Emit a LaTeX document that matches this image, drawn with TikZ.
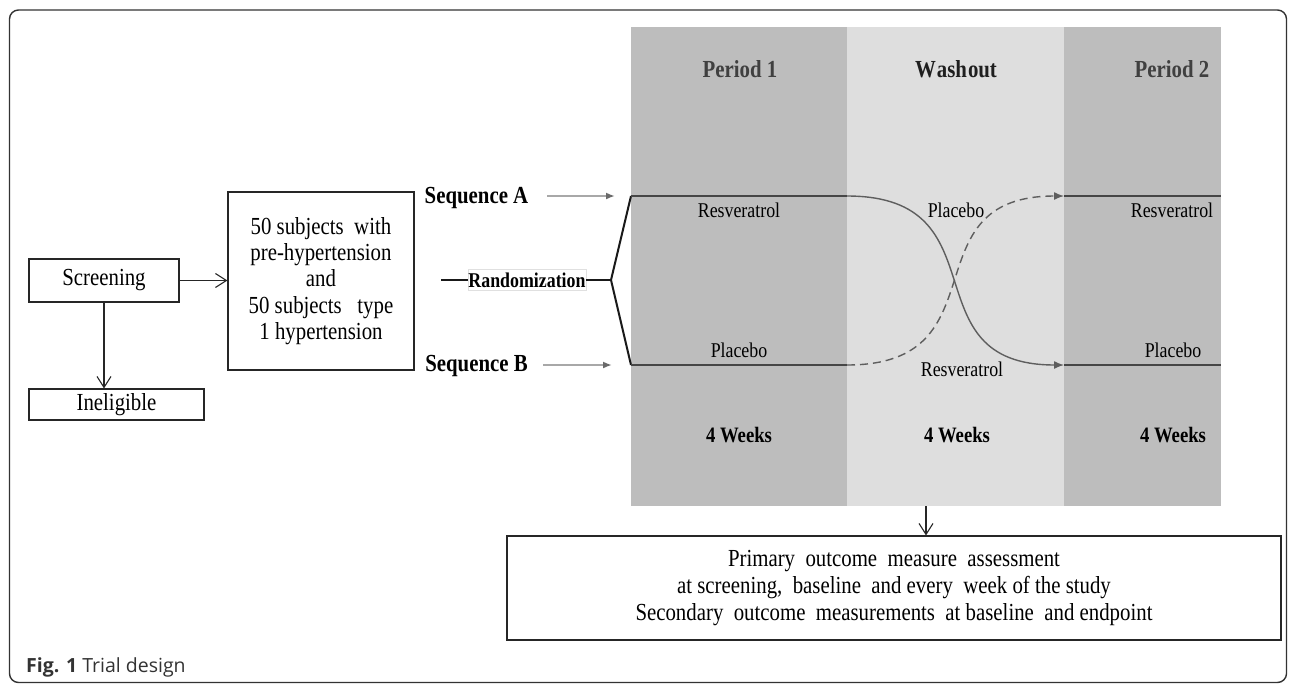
\documentclass[tikz,border=0pt]{standalone}
\usepackage{fontspec}
\setmainfont{Liberation Serif}[FakeStretch=0.85]
\newfontfamily\capfont{Open Sans}
\usetikzlibrary{arrows.meta}
\definecolor{bandD}{HTML}{BDBDBD}
\definecolor{bandL}{HTML}{DEDEDE}
\definecolor{lineD}{HTML}{464646}
\definecolor{curveC}{HTML}{5E5E5E}
\definecolor{seqC}{HTML}{A8A8A8}
\definecolor{tipC}{HTML}{6A6A6A}
\definecolor{capC}{HTML}{333333}
\tikzset{
  boxnode/.style={draw=black!85, line width=1.1pt, inner sep=0pt, align=center},
  bigfont/.style={font=\fontsize{24.5}{26.3}\selectfont},
  midfont/.style={font=\fontsize{24.5}{27}\selectfont},
  lblfont/.style={font=\fontsize{21}{24}\selectfont, inner sep=0pt, anchor=base},
  boldlbl/.style={font=\bfseries\fontsize{22}{24}\selectfont, inner sep=0pt, anchor=base},
  headlbl/.style={font=\bfseries\fontsize{24.5}{26}\selectfont, inner sep=0pt, anchor=base},
  openarrow/.style={draw=black!85, line width=1.1pt, -{Straight Barb[length=11pt,width=14pt,line width=1.1pt]}},
  seqarrow/.style={draw=seqC, line width=2pt, -{Latex[length=9pt,width=7pt,color=tipC]}},
  forkline/.style={draw=black!90, line width=2pt, line join=miter},
  mainline/.style={draw=lineD, line width=2.3pt},
  curveline/.style={draw=curveC, line width=1.4pt, -{Latex[length=10pt,width=8pt]}},
  dashcurve/.style={curveline, dash pattern=on 8pt off 5pt},
  framebox/.style={draw=capC, line width=1.4pt, rounded corners=9pt},
}
\begin{document}
\begin{tikzpicture}[x=1pt,y=-1pt]
\useasboundingbox (0,0) rectangle (1290,683);
\fill[white] (0,0) rectangle (1290,683);
% outer frame
\draw[framebox] (9.5,10) rectangle (1286.5,682.5);
% period bands
\fill[bandD] (631,27) rectangle (847,506);
\fill[bandL] (847,27) rectangle (1064,506);
\fill[bandD] (1064,27) rectangle (1221,506);
% band headers
\node[headlbl, text=black!75] (p1) at (740,77) {Period 1};
\node[headlbl, text=black!88] (wo) at (956,77) {W\kern1pt ash\kern1pt out};
\node[headlbl, text=black!75] (p2) at (1172,77) {Period 2};
% weeks
\node[boldlbl] (w1) at (739,442) {4 Weeks};
\node[boldlbl] (w2) at (957,442) {4 Weeks};
\node[boldlbl] (w3) at (1173,442) {4 Weeks};
% left boxes
\node[boxnode, bigfont, minimum width=150pt, minimum height=43pt] (scr) at (104,280.5) {Screening};
\node[boxnode, bigfont, minimum width=175pt, minimum height=31pt] (inel) at (116.5,404.5) {Ineligible};
\node[boxnode, bigfont, minimum width=186pt, minimum height=178pt] (subj) at (321,281)
  {50 subjects\ \ with\\pre-hypertension\\and\\50 subjects\ \ \ type\\1 hypertension};
\draw[openarrow] (scr.east) -- (scr.east -| subj.west);
\draw[openarrow] (scr.south) -- (scr.south |- inel.north);
% sequence labels
\node[boldlbl, font=\bfseries\fontsize{24.5}{26}\selectfont] (seqA) at (476.5,203) {Sequence A};
\node[boldlbl, font=\bfseries\fontsize{24.5}{26}\selectfont] (seqB) at (476.5,371) {Sequence B};
\coordinate (sA0) at (547,196);
\coordinate (sA1) at (615,196);
\coordinate (sB0) at (543,365);
\coordinate (sB1) at (612,365);
\draw[seqarrow] (sA0) -- (sA1);
\draw[seqarrow] (sB0) -- (sB1);
% randomization
\node[boldlbl, font=\bfseries\fontsize{21}{24}\selectfont, draw=black!12, line width=0.6pt, inner xsep=0.5pt, inner ysep=3pt] (rand) at (527,287) {Randomization};
\coordinate (randL) at (441,280);
\coordinate (fork) at (611,280);
\coordinate (a0) at (631,196);
\coordinate (b0) at (631,365);
\draw[forkline] (randL) -- (randL -| rand.west);
\draw[forkline] (rand.east |- randL) -- (fork);
\draw[forkline] (a0) -- (fork) -- (b0);
% treatment lines
\coordinate (a1) at (847,196);
\coordinate (b1) at (847,365);
\coordinate (a2) at (1064,196);
\coordinate (b2) at (1064,365);
\coordinate (a3) at (1221,196);
\coordinate (b3) at (1221,365);
\draw[mainline] (a0) -- (a1);
\draw[mainline] (b0) -- (b1);
\draw[mainline] (a2) -- (a3);
\draw[mainline] (b2) -- (b3);
\draw[curveline] (a1) .. controls (1005,196) and (906,365) .. (b2);
\draw[dashcurve] (b1) .. controls (1005,365) and (906,196) .. (a2);
% treatment labels
\node[lblfont] (r1) at (739,217) {Resveratrol};
\node[lblfont] (pl1) at (739,357) {Placebo};
\node[lblfont] (pl2) at (956,217) {Placebo};
\node[lblfont] (r2) at (962,376) {Resveratrol};
\node[lblfont] (r3) at (1172,217) {Resveratrol};
\node[lblfont] (pl3) at (1173,357) {Placebo};
% outcome box
\coordinate (bandsbot) at (926,506);
\node[boxnode, midfont, minimum width=774pt, minimum height=104pt] (outc) at (894,588)
  {Primary\ \ outcome\ \ measure\ \ assessment\\
   at screening,\ \ baseline\ \ and every\ \ week of the study\\
   Secondary\ \ outcome\ \ measurements\ \ at baseline\ \ and endpoint};
\draw[openarrow] (bandsbot) -- (bandsbot |- outc.north);
% caption
\node[anchor=base west, inner sep=0pt, text=capC, font=\capfont\fontsize{19.5}{21}\selectfont] (cap) at (26,672) {\textbf{Fig. 1} Trial design};
\end{tikzpicture}
\end{document}
